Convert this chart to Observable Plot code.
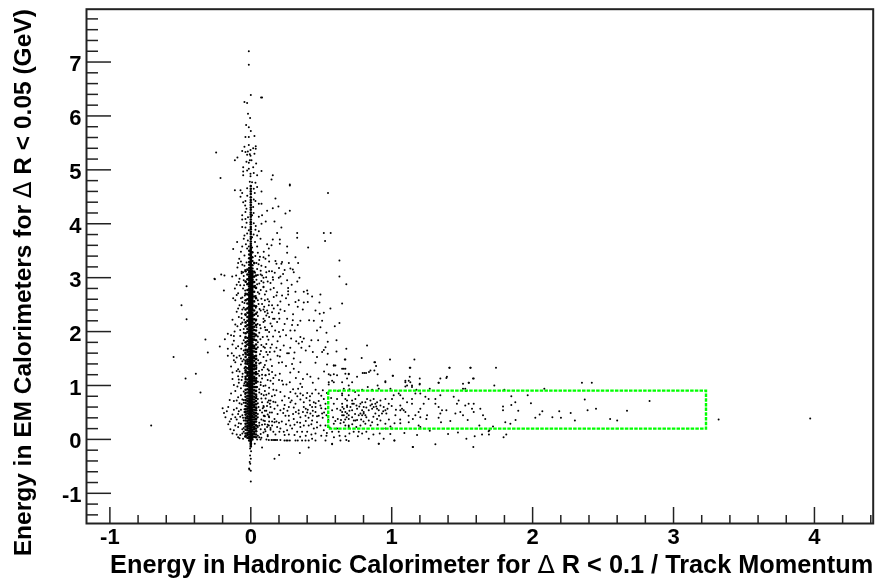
<!DOCTYPE html>
<html><head><meta charset="utf-8">
<style>html,body{margin:0;padding:0;background:#fff}svg{display:block;filter:blur(0.3px)}</style>
<script src="https://cdn.jsdelivr.net/npm/d3@7"></script>
<script src="https://cdn.jsdelivr.net/npm/@observablehq/plot@0.6"></script>
</head><body><div id="chart"></div>
<script>
const xMajor=[-1,0,1,2,3,4];
const xMinor=[-0.8,-0.6,-0.4,-0.2,0.2,0.4,0.6,0.8,1.2,1.4,1.6,1.8,2.2,2.4,2.6,2.8,3.2,3.4,3.6,3.8,4.2,4.4];
const yMajor=[-1,0,1,2,3,4,5,6,7];
const yMinor=[-1.4,-1.2,-0.8,-0.6,-0.4,-0.2,0.2,0.4,0.6,0.8,1.2,1.4,1.6,1.8,2.2,2.4,2.6,2.8,3.2,3.4,3.6,3.8,4.2,4.4,4.6,4.8,5.2,5.4,5.6,5.8,6.2,6.4,6.6,6.8,7.2,7.4,7.6,7.8];
const xTitle="Energy in Hadronic Calorimeter for Δ R < 0.1 / Track Momentum";
const yTitle="Energy in EM Calorimeters for Δ R < 0.05 (GeV)";
const box=[{x1:0.553,x2:3.234,y1:0.19,y2:0.896}];

const spineCenter=[-0.13,-0.1,-0.07,-0.04,-0.01,0.02,0.05,0.07,0.1,0.13,0.15,0.18,0.21,0.23,0.26,0.29,0.31,0.34,0.37,0.4,0.42,0.45,0.47,0.5,0.53,0.55,0.58,0.61,0.64,0.66,0.69,0.72,0.74,0.77,0.8,0.82,0.85,0.88,0.9,0.93,0.96,0.98,1.01,1.04,1.07,1.09,1.12,1.15,1.17,1.2,1.23,1.25,1.28,1.31,1.33,1.36,1.39,1.42,1.44,1.47,1.5,1.52,1.55,1.58,1.6,1.63,1.66,1.68,1.71,1.74,1.77,1.79,1.82,1.85,1.87,1.9,1.93,1.95,1.98,2.01,2.03,2.06,2.09,2.12,2.14,2.17,2.2,2.22,2.25,2.28,2.3,2.33,2.36,2.38,2.41,2.44,2.47,2.49,2.52,2.55,2.57,2.6,2.63,2.65,2.68,2.71,2.73,2.76,2.79,2.82,2.84,2.87,2.9,2.92,2.95,2.98,3.0,3.03,3.06,3.08,3.11,3.14,3.17,3.19,3.22,3.25,3.27,3.3,3.33,3.35,3.38,3.41,3.43,3.46,3.49,3.52,3.55,3.59,3.63,3.67,3.72,3.76,3.81,3.85,3.9,3.94,3.99,4.03,4.08,4.13,4.17,4.21,4.26,4.3,4.35,4.4,4.44,4.49,4.55,4.6,4.65,4.7];
const spineLeft=[-0.02,0.02,0.05,0.09,0.13,0.16,0.2,0.24,0.27,0.31,0.35,0.38,0.42,0.46,0.49,0.53,0.57,0.6,0.64,0.68,0.71,0.75,0.79,0.82,0.86,0.9,0.93,0.97,1.01,1.04,1.08,1.12,1.15,1.19,1.23,1.26,1.3,1.34,1.37,1.41,1.45,1.48,1.52,1.56,1.59,1.63,1.67,1.7,1.74,1.78,1.81,1.85,1.89,1.92,1.96,2.0,2.03,2.07,2.11,2.14,2.18,2.22,2.25,2.29,2.33,2.36,2.4,2.44,2.47,2.51,2.55,2.58,2.62,2.66,2.69,2.73,2.77,2.8,2.84,2.88,2.91,2.95,2.99,3.02,3.06,3.1,3.13,3.18,3.24,3.29,3.36,3.43,3.5];
const spineRight=[0.0,0.04,0.08,0.11,0.15,0.18,0.22,0.26,0.29,0.33,0.37,0.41,0.44,0.48,0.52,0.55,0.59,0.63,0.66,0.7,0.74,0.77,0.81,0.85,0.88,0.92,0.96,0.99,1.03,1.07,1.1,1.14,1.18,1.21,1.25,1.29,1.32,1.36,1.4,1.43,1.47,1.51,1.54,1.58,1.62,1.65,1.69,1.73,1.76,1.8,1.84,1.87,1.91,1.95,1.98,2.02,2.06,2.09,2.13,2.17,2.2,2.24,2.28,2.31,2.35,2.39,2.42,2.46,2.5,2.53,2.57,2.61,2.64,2.68,2.72,2.75,2.79,2.83,2.86,2.9,2.94,2.97,3.01,3.05,3.08,3.12,3.17,3.23,3.31,3.38,3.47];
const spineOuterL=[0.03,0.08,0.12,0.17,0.21,0.25,0.3,0.34,0.39,0.43,0.48,0.52,0.57,0.61,0.66,0.71,0.76,0.81,0.87,0.93,0.99,1.05,1.11,1.18,1.25,1.32,1.4,1.48,1.57,1.66,1.76,1.88,1.99,2.12,2.27,2.43,2.6,2.77,2.97,3.15,1.02,1.22,1.44,1.62,1.82,2.05,2.2,2.35,2.52,2.69,2.88,3.06];
const spineOuterR=[0.05,0.1,0.14,0.19,0.23,0.28,0.32,0.37,0.41,0.46,0.5,0.55,0.6,0.64,0.69,0.74,0.79,0.85,0.91,0.97,1.03,1.09,1.16,1.23,1.3,1.38,1.46,1.54,1.63,1.73,1.85,1.96,2.09,2.23,2.39,2.56,2.74,2.92,3.11,3.27,1.13,1.35,1.51,1.69,1.91,2.03,2.16,2.31,2.48,2.65,2.83,3.02];
const spineFlankL=[0.06,0.11,0.18,0.24,0.29,0.35,0.4,0.46,0.51,0.56,0.62,0.68,0.73,0.79,0.86,0.92,1.0,1.07,1.16,1.24,1.34,1.46,1.59,1.73,1.9,2.1,2.31,2.58,1.12,1.28,1.41,1.53,1.66,1.8,1.97,2.17,2.41,2.7,2.93,3.12];
const spineFlankR=[0.04,0.09,0.15,0.2,0.26,0.33,0.38,0.44,0.49,0.54,0.59,0.65,0.71,0.77,0.83,0.9,0.97,1.05,1.13,1.21,1.31,1.42,1.55,1.68,1.84,2.02,2.22,2.47,1.09,1.25,1.37,1.49,1.62,1.76,1.93,2.12,2.33,2.62,2.81,3.04];

const upperPlume=[[-0.014,7.2],[-0.014,6.95],[0,6.39],[0.073,6.34],[0.08,6.34],[-0.045,6.26],[-0.026,6.24],[-0.02,6.04],[-0.005,5.96],[-0.033,5.83],[-0.014,5.79],[0,5.72],[-0.038,5.61],[-0.014,5.61],[0.026,5.63],[-0.014,5.46],[-0.045,5.43],[0.035,5.44],[0.017,5.4],[0.035,5.39],[-0.061,5.35],[-0.038,5.33],[-0.021,5.34],[-0.002,5.37],[0.026,5.3],[-0.007,5.29],[-0.002,5.26],[-0.026,5.28],[-0.246,5.32],[-0.095,5.23],[-0.113,5.18],[-0.007,5.18],[0.005,5.18],[-0.031,5.15],[-0.014,5.13],[0.038,5.12],[-0.054,5.05],[0.017,5.05],[-0.014,5.02],[-0.026,4.99],[0.076,4.98],[-0.054,4.97],[-0.002,4.93],[0.021,4.94],[-0.054,4.9],[-0.002,4.88],[0.045,4.9],[0.156,4.9],[0.147,4.82],[-0.215,4.85],[-0.007,4.78],[0.009,4.77],[0.033,4.76],[0.277,4.73],[0.277,4.71],[-0.113,4.62],[-0.073,4.62],[-0.061,4.57],[-0.026,4.66],[0.021,4.65],[0.045,4.68],[0.076,4.6],[0.028,4.57],[-0.073,4.5],[0.175,4.47],[0.548,4.57],[-0.054,4.4],[-0.038,4.42],[0.021,4.45],[0.033,4.42],[0.057,4.37],[0.076,4.37],[0.017,4.31],[-0.031,4.28],[0.116,4.24],[0.156,4.29],[0.196,4.32],[0.277,4.24],[0.246,4.19],[-0.038,4.22],[0.009,4.16],[0.057,4.13],[0.08,4.16],[-0.061,4.16],[-0.038,4.09],[0.021,4.01],[0.076,4.0],[0.106,4.04],[0.168,4.04],[-0.061,4.08],[0.217,3.93],[-0.061,3.94],[-0.038,3.93],[-0.014,3.88],[-0.026,3.82],[0.033,3.89],[0.057,3.86],[0.187,3.83],[0.329,3.83],[0.518,3.83],[0.567,3.83],[0.329,3.74],[0.527,3.68],[-0.05,3.72],[-0.021,3.69],[0.009,3.75],[0.069,3.72],[0.156,3.71],[0.206,3.71],[-0.097,3.66],[-0.061,3.58],[-0.014,3.58],[0.009,3.56],[0.045,3.58],[0.116,3.62],[0.147,3.6],[0.206,3.63],[0.258,3.58],[0.407,3.56],[-0.125,3.53],[-0.026,3.54],[0.128,3.54],[-0.02,4.12],[0.02,4.2],[-0.03,4.02],[0.035,3.96],[-0.04,4.34],[-0.025,4.52],[0.02,3.8],[-0.035,3.62],[0.03,3.66],[-0.045,3.78],[0.045,3.78]];

const middleWing=[[0.629,3.32],[0.629,3.02],[0.678,2.88],[0.648,2.52],[0.565,2.43],[0.629,2.16],[0.596,2.1],[0.537,1.98],[0.608,1.84],[0.678,1.68],[0.608,1.63],[0.671,1.48],[0.546,1.81],[0.53,1.71],[0.518,1.66],[0.546,1.59],[0.506,1.62],[0.47,1.53],[0.478,1.84],[0.43,1.84],[0.416,1.73],[0.359,1.7],[0.352,1.9],[0.376,1.87],[0.364,1.81],[0.322,1.82],[0.286,1.87],[0.234,1.74],[0.208,1.91],[0.158,1.91],[0.116,1.91],[0.182,1.7],[0.21,1.66],[0.168,1.63],[0.258,1.6],[0.27,1.6],[0.206,1.54],[0.305,1.5],[0.47,2.02],[0.494,2.08],[0.506,2.2],[0.447,2.2],[0.414,2.21],[0.352,2.2],[0.312,2.02],[0.281,2.02],[0.293,2.12],[0.229,2.03],[0.333,2.12],[0.258,2.24],[0.298,2.21],[0.187,2.18],[0.158,2.24],[0.168,2.24],[0.203,2.24],[0.116,2.03],[0.173,2.02],[0.459,2.39],[0.489,2.33],[0.518,2.35],[0.369,2.41],[0.333,2.46],[0.34,2.58],[0.317,2.55],[0.376,2.54],[0.404,2.55],[0.487,2.54],[0.494,2.69],[0.435,2.65],[0.404,2.7],[0.376,2.74],[0.4,2.76],[0.317,2.74],[0.265,2.69],[0.265,2.75],[0.265,2.81],[0.258,2.95],[0.217,2.89],[0.345,3.0],[0.305,3.1],[0.281,3.17],[0.298,3.15],[0.27,3.27],[0.336,3.27],[0.317,3.38],[0.258,3.46],[0.222,3.29],[0.217,3.26],[0.175,3.31],[0.182,3.26],[0.128,3.41],[0.104,3.35],[0.092,3.48],[0.21,3.02],[0.199,3.0],[0.229,3.07],[0.156,3.01],[0.158,2.96],[0.109,3.01],[0.08,3.04],[0.187,2.73],[0.182,2.67],[0.222,2.67],[0.163,2.81],[0.163,2.64],[0.128,2.49],[0.151,2.49],[0.191,2.49],[0.163,2.43],[0.21,2.41],[0.199,2.34],[0.151,2.36],[0.116,2.39]];

const leftOutliers=[[-0.707,0.26],[-0.492,2.49],[-0.456,2.23],[-0.548,1.53],[-0.322,1.855],[-0.305,1.61],[-0.22,1.725],[-0.39,1.22],[-0.463,1.13],[-0.357,0.87],[-0.456,2.84],[-0.258,2.98],[-0.21,3.06],[-0.187,3.04],[-0.163,1.96],[-0.184,1.86],[-0.163,1.68],[-0.163,1.55],[-0.121,1.55],[-0.255,2.97],[-0.132,3.02],[-0.104,3.04],[-0.191,2.76],[-0.113,2.8],[-0.125,2.62]];

const baseRow=[[0.111,0],[0.128,-0.01],[0.147,-0.01],[0.158,-0.01],[0.168,-0.01],[0.177,-0.01],[0.187,-0.01],[0.21,-0.01],[0.239,-0.02],[0.253,-0.02],[0.262,-0.02],[0.277,-0.02],[0.317,-0.02],[0.333,-0.02],[0.364,-0.02],[0.388,-0.02],[0.411,-0.02],[0.348,-0.25],[0.201,-0.29],[0.168,-0.36],[0.411,-0.15],[0.459,-0.02],[0.435,0.01],[0.577,-0.08],[0.636,-0.02],[0.695,-0.03],[0.045,0],[0.069,0],[0.08,-0.15],[0.028,-0.08],[-0.005,-0.17],[0.002,-0.22],[-0.005,-0.3],[0.0,-0.36],[-0.008,-0.42],[-0.012,-0.54],[0,-0.58],[0,-0.78],[-0.01,-0.56],[-0.004,-0.45]];

const lowerWing=[[0.199,1.42],[0.222,1.43],[0.293,1.4],[0.305,1.31],[0.34,1.25],[0.4,1.21],[0.423,1.16],[0.352,1.43],[0.459,1.42],[0.541,1.39],[0.589,1.37],[0.648,1.31],[0.671,1.31],[0.695,1.21],[0.553,1.21],[0.589,1.21],[0.612,1.19],[0.683,1.13],[0.092,1.34],[0.128,1.28],[0.151,1.25],[0.104,1.19],[0.175,1.19],[0.206,1.22],[0.222,1.09],[0.277,1.06],[0.253,1.02],[0.229,1.02],[0.158,1.03],[0.182,0.91],[0.128,0.85],[0.104,1.0],[0.352,1.03],[0.336,0.94],[0.364,0.97],[0.281,0.88],[0.317,0.85],[0.352,0.85],[0.4,0.86],[0.435,0.85],[0.482,0.85],[0.511,0.91],[0.577,1.09],[0.553,1.02],[0.222,0.72],[0.128,0.72],[0.135,0.66],[0.092,0.82],[0.175,0.69],[0.281,0.69],[0.317,0.66],[0.352,0.74],[0.395,0.77],[0.376,0.69],[0.418,0.72],[0.447,0.69],[0.482,0.71],[0.518,0.75],[0.53,0.66],[0.494,0.63],[0.459,0.6],[0.435,0.6],[0.404,0.55],[0.376,0.6],[0.34,0.54],[0.305,0.59],[0.27,0.6],[0.234,0.57],[0.21,0.54],[0.168,0.57],[0.168,0.38],[0.168,0.32],[0.151,0.33],[0.182,0.33],[0.092,0.6],[0.092,0.44],[0.128,0.43],[0.116,0.23],[0.128,0.26],[0.151,0.26],[0.187,0.23],[0.21,0.2],[0.203,0.14],[0.175,0.09],[0.104,0.15],[0.246,0.44],[0.27,0.35],[0.305,0.38],[0.329,0.32],[0.352,0.41],[0.388,0.44],[0.423,0.48],[0.459,0.51],[0.482,0.44],[0.506,0.48],[0.53,0.57],[0.537,0.45],[0.435,0.35],[0.47,0.32],[0.376,0.26],[0.352,0.23],[0.411,0.26],[0.329,0.14],[0.293,0.2],[0.258,0.17],[0.234,0.14],[0.364,0.14],[0.4,0.14],[0.447,0.2],[0.459,0.11],[0.494,0.26],[0.518,0.17],[0.537,0.07],[0.577,0.14],[0.612,0.2],[0.57,0.77],[0.589,0.66],[0.612,0.75],[0.648,0.82],[0.683,0.72],[0.577,0.54],[0.612,0.57],[0.648,0.51],[0.683,0.6],[0.584,0.41],[0.617,0.38],[0.66,0.45],[0.695,0.38],[0.589,0.29],[0.636,0.3],[0.671,0.26],[0.695,0.23],[0.624,0.14],[0.671,0.06]];

const wingExtra=[[0.11,1.62],[0.14,1.48],[0.19,1.55],[0.09,1.72],[0.12,1.1],[0.16,1.14],[0.2,1.1],[0.13,0.96],[0.17,0.82],[0.21,0.88],[0.24,0.8],[0.27,0.77],[0.3,0.93],[0.33,0.8],[0.37,0.82],[0.42,0.8],[0.46,0.92],[0.5,0.81],[0.54,0.86],[0.1,0.53],[0.15,0.5],[0.19,0.47],[0.23,0.49],[0.26,0.53],[0.3,0.47],[0.34,0.48],[0.37,0.51],[0.41,0.4],[0.44,0.44],[0.47,0.43],[0.51,0.4],[0.55,0.36],[0.22,0.33],[0.25,0.28],[0.28,0.26],[0.31,0.27],[0.35,0.31],[0.39,0.34],[0.43,0.28],[0.47,0.22],[0.53,0.26],[0.56,0.22],[0.6,0.34],[0.64,0.36],[0.68,0.41],[0.1,0.34],[0.14,0.18],[0.24,0.08],[0.27,0.09],[0.31,0.08],[0.35,0.05],[0.39,0.07],[0.43,0.09],[0.5,0.07],[0.54,0.12],[0.59,0.04],[0.63,0.07],[0.7,0.11],[0.73,0.14],[0.76,0.06],[0.82,0.14],[0.87,0.09],[0.99,0.1],[1.09,0.12],[1.18,0.08],[1.27,0.16],[1.4,0.1],[1.47,0.13],[0.62,0.9],[0.66,0.94],[0.7,0.93],[0.74,0.88],[0.77,0.61],[0.82,0.59],[0.86,0.65],[0.89,0.61],[0.92,0.72],[0.94,0.52],[0.97,0.57],[1.0,0.62],[1.03,0.55],[1.08,0.76],[1.12,0.44],[1.15,0.38],[0.72,0.66],[0.75,0.63],[0.65,0.6],[0.7,0.53],[0.74,0.47],[0.82,0.41],[0.87,0.42],[0.91,0.44],[0.98,0.37],[1.02,0.3],[1.06,0.37],[0.67,0.37],[0.72,0.28],[0.8,0.33],[0.85,0.26],[0.9,0.27],[0.1,2.2],[0.13,2.27],[0.09,2.41],[0.12,2.6],[0.09,2.83],[0.11,2.75],[0.14,2.9],[0.13,3.12],[0.17,3.09],[0.2,3.18],[0.24,3.14],[0.15,1.76],[0.19,1.82],[0.25,1.93],[0.28,1.7],[0.31,1.61],[0.34,1.78],[0.39,1.65],[0.44,1.62],[0.25,1.36],[0.28,1.24],[0.32,1.14],[0.37,1.12],[0.44,1.05],[0.48,1.13],[0.52,1.26],[0.15,2.1],[0.2,1.99],[0.24,2.14],[0.3,2.32],[0.24,2.38],[0.27,2.5],[0.21,2.56],[0.25,2.62],[0.29,2.87],[0.33,2.93],[0.14,0.72],[0.19,0.63],[0.24,0.64],[0.29,0.72],[0.12,0.08],[0.16,0.14],[0.2,0.31],[0.27,0.44],[0.32,0.51],[0.39,0.57],[0.42,0.64],[0.46,0.67],[0.5,0.58],[0.52,0.5],[0.44,0.53],[0.4,0.5]];

const farWing=[[0.825,1.74],[0.787,1.51],[0.988,1.48],[1.161,1.48],[0.882,1.43],[1.132,1.33],[1.411,1.33],[1.56,1.33],[1.74,1.33],[0.849,1.28],[0.806,1.23],[0.754,1.16],[0.9,1.21],[1.009,1.18],[0.66,1.31],[0.671,1.22],[0.695,1.22],[0.589,1.37],[0.6,1.37],[0.667,1.48],[0.565,1.19],[0.553,1.06],[0.589,1.06],[0.648,1.06],[0.719,1.06],[0.695,1.0],[1.097,1.09],[1.121,1.09],[1.199,1.13],[1.199,1.03],[1.109,1.0],[1.144,1.0],[1.333,1.05],[1.345,1.13],[1.388,1.14],[1.506,1.03],[1.546,1.05],[1.582,1.13],[1.728,1.0],[1.522,0.94],[1.527,0.9],[1.799,0.92],[2.083,0.94],[2.35,1.05],[0.955,1.06],[0.9,1.0],[0.83,0.97],[0.79,0.92],[0.861,0.92],[1.988,0.67],[1.965,0.82],[1.877,0.69],[1.849,0.8],[1.849,0.64],[1.79,0.61],[1.79,0.54],[1.898,0.53],[1.879,0.36],[1.806,0.32],[1.842,0.29],[2.019,0.4],[2.05,0.46],[2.069,0.52],[2.14,0.41],[2.189,0.52],[2.201,0.4],[2.27,0.49],[2.39,0.54],[1.794,0.04],[1.813,0.09],[1.719,0.24],[1.693,0.17],[1.69,0.09],[1.641,0.09],[1.589,0.06],[1.53,0.01],[1.579,-0.14],[1.31,-0.09],[1.149,-0.14],[0.908,-0.08],[1.019,-0.02],[0.577,-0.09],[0.53,-0.02],[0.877,1.43],[0.889,1.36],[0.877,1.28],[0.839,1.25],[0.818,1.23],[0.794,1.23],[1.007,1.18],[1.128,1.33],[1.128,1.16],[1.097,1.06],[1.132,1.06],[1.198,1.02],[1.144,0.97],[1.097,0.98],[1.27,0.94],[1.175,0.92],[1.392,1.16],[1.333,1.05],[1.409,1.33],[1.558,1.33],[1.577,1.13],[1.548,1.05],[1.506,0.94],[0.955,1.08],[0.908,0.94],[0.991,0.94],[2.42,1.05],[2.55,0.38],[2.83,0.71],[2.67,0.53],[2.6,0.35],[3.32,0.37],[3.97,0.39],[2.45,0.57],[2.3,0.35],[2.37,0.74]];

const boxCloud=[[0.648,0.85],[0.671,0.75],[0.695,0.82],[0.719,0.72],[0.742,0.75],[0.766,0.82],[0.79,0.69],[0.825,0.75],[0.849,0.72],[0.872,0.75],[0.896,0.69],[0.648,0.66],[0.683,0.63],[0.707,0.6],[0.731,0.66],[0.754,0.57],[0.79,0.54],[0.801,0.48],[0.778,0.48],[0.766,0.45],[0.813,0.45],[0.837,0.54],[0.861,0.57],[0.884,0.66],[0.92,0.63],[0.943,0.6],[0.979,0.66],[1.002,0.75],[1.014,0.82],[1.05,0.85],[1.061,0.82],[0.955,0.75],[0.908,0.54],[0.931,0.48],[0.962,0.48],[0.955,0.54],[0.884,0.48],[0.896,0.38],[0.92,0.35],[0.955,0.29],[0.861,0.32],[0.837,0.35],[0.813,0.29],[0.778,0.26],[0.742,0.35],[0.719,0.41],[0.695,0.45],[0.671,0.51],[0.648,0.45],[0.66,0.32],[0.695,0.26],[0.731,0.35],[0.749,0.23],[0.991,0.24],[1.002,0.2],[1.026,0.45],[1.061,0.54],[1.061,0.63],[1.085,0.54],[1.073,0.57],[1.097,0.51],[1.109,0.69],[1.144,0.75],[1.144,0.66],[1.168,0.85],[1.203,0.85],[1.239,0.79],[1.262,0.75],[1.227,0.66],[1.203,0.57],[1.168,0.45],[1.203,0.41],[1.191,0.51],[1.251,0.45],[1.246,0.38],[1.121,0.32],[1.061,0.3],[1.191,0.26],[1.203,0.23],[1.345,0.82],[1.31,0.75],[1.31,0.66],[1.333,0.6],[1.357,0.54],[1.388,0.54],[1.345,0.48],[1.333,0.4],[1.35,0.32],[1.416,0.34],[1.44,0.79],[1.475,0.72],[1.463,0.66],[1.487,0.51],[1.452,0.48],[1.522,0.63],[1.546,0.66],[1.582,0.66],[1.57,0.57],[1.582,0.51],[1.506,0.45],[1.539,0.36],[1.629,0.57],[1.648,0.45],[1.664,0.38],[1.622,0.26],[0.678,-0.01],[0.908,-0.08],[0.943,0.01],[1.019,-0.02],[1.151,-0.14],[1.688,0.15],[0.766,0.14],[0.79,0.11],[0.837,0.01],[0.915,0.11],[0.955,0.2],[0.636,0.54],[0.66,0.57],[0.683,0.48],[0.719,0.54],[0.778,0.66],[0.801,0.6],[0.813,0.69],[0.849,0.63],[0.872,0.6],[0.896,0.57],[0.754,0.36],[0.783,0.37],[0.801,0.51],[0.79,0.45]];

const nearSpine=[[-0.07,3.48],[0.05,3.46],[-0.045,3.41],[0.032,3.4],[0.09,3.38],[-0.082,3.35],[0.06,3.33],[0.13,3.3],[-0.03,3.28],[0.04,3.27],[-0.06,3.24],[0.075,3.22],[0.105,3.2],[-0.095,3.19],[0.045,3.16],[-0.04,3.14],[0.15,3.12],[-0.065,3.11],[0.03,3.09],[0.07,3.06],[-0.05,3.03],[0.09,3.0],[-0.08,2.98],[0.04,2.96],[0.12,2.93],[-0.035,2.92],[0.06,2.89],[-0.1,2.87],[0.03,2.85],[0.09,2.82],[-0.055,2.8],[0.14,2.78],[-0.04,2.76],[0.05,2.73],[-0.09,2.71],[0.1,2.69],[0.035,2.66],[-0.06,2.63],[0.075,2.61],[-0.11,2.58],[0.13,2.56],[-0.045,2.53],[0.055,2.51],[-0.08,2.49],[0.095,2.46],[0.035,2.44],[-0.06,2.41],[0.07,2.39],[-0.1,2.37],[0.12,2.34],[-0.04,2.32],[0.05,2.29],[-0.085,2.27],[0.09,2.24],[-0.13,2.22],[0.035,2.2],[-0.06,2.17],[0.14,2.15],[0.065,2.12],[-0.095,2.1],[0.04,2.08],[-0.05,2.05],[0.105,2.03],[-0.115,2.0],[0.06,1.98],[0.035,1.95],[-0.075,1.92],[0.085,1.9],[-0.04,1.88],[0.125,1.85],[-0.12,1.83],[0.05,1.8],[-0.06,1.78],[0.075,1.75],[-0.09,1.73],[0.1,1.7],[0.04,1.68],[-0.05,1.65],[0.135,1.62],[-0.135,1.6],[0.065,1.58],[-0.08,1.55],[0.09,1.53],[0.04,1.5],[-0.05,1.48],[0.11,1.46],[-0.11,1.43],[0.06,1.41],[-0.07,1.39],[0.15,1.36],[0.04,1.34],[-0.045,1.32],[0.08,1.29],[-0.1,1.27],[-0.13,1.24],[0.05,1.22],[0.105,1.19],[-0.06,1.16],[0.04,1.14],[-0.085,1.11],[0.14,1.09],[0.07,1.06],[-0.045,1.04],[-0.12,1.01],[0.09,0.99],[0.045,0.97],[-0.07,0.95],[0.16,0.92],[-0.05,0.89],[0.06,0.87],[-0.14,0.85],[0.11,0.83],[0.04,0.8],[-0.09,0.78],[0.075,0.76],[-0.05,0.73],[-0.12,0.71],[0.12,0.69],[0.05,0.67],[-0.065,0.65],[0.09,0.62],[-0.16,0.6],[0.04,0.58],[-0.045,0.56],[0.065,0.54],[-0.085,0.52],[0.135,0.5],[-0.19,0.49],[0.05,0.47],[-0.06,0.45],[0.1,0.43],[-0.11,0.41],[0.04,0.39],[0.075,0.37],[-0.05,0.35],[-0.15,0.33],[0.06,0.31],[-0.07,0.29],[0.12,0.27],[0.045,0.25],[-0.09,0.23],[-0.05,0.21],[0.07,0.19],[-0.12,0.17],[0.04,0.15],[0.09,0.13],[-0.06,0.11],[-0.1,0.09],[0.05,0.07],[-0.04,0.05],[0.075,0.03],[-0.08,0.02],[-0.04,1.61],[0.05,1.07],[-0.05,1.0],[0.06,0.93],[-0.04,0.84],[0.05,0.75],[-0.05,0.68],[0.055,0.6],[-0.045,0.51],[0.05,0.41],[-0.055,0.4],[0.06,0.26],[-0.05,0.14],[0.05,0.23],[-0.06,0.74],[0.075,0.84],[-0.07,0.55],[0.08,0.5],[-0.075,0.42],[0.09,0.35],[-0.085,0.3],[0.1,0.28],[0.11,0.53],[-0.1,0.58],[0.13,0.41],[-0.13,0.46],[0.14,0.6],[-0.11,0.9],[-0.085,1.05],[0.08,1.13],[-0.09,1.3],[0.1,1.38],[-0.1,1.52],[0.12,1.57],[-0.105,1.69],[0.11,1.77],[-0.12,1.92],[0.13,1.99],[-0.07,2.14],[0.09,2.18],[-0.065,2.33],[0.08,2.51],[-0.07,2.62],[0.07,2.77],[-0.075,2.86],[0.075,2.94],[-0.065,3.08],[0.07,3.13],[-0.07,3.3],[0.065,3.39],[-0.045,3.22],[0.05,3.05],[-0.05,2.95],[0.045,2.88],[-0.042,2.67],[0.05,2.58],[-0.05,2.44],[0.045,2.36],[-0.047,2.22],[0.048,2.14],[-0.05,1.98],[0.05,1.91],[-0.05,1.84],[0.05,1.71],[-0.055,1.57],[0.052,1.47],[-0.06,1.45],[0.058,1.27],[-0.058,1.22],[0.06,1.18],[-0.065,1.1],[0.07,1.01],[-0.07,0.82],[0.08,0.69],[-0.08,0.67],[0.085,0.58],[-0.09,0.47],[0.095,0.44],[-0.1,0.37],[0.1,0.19],[-0.06,0.19],[0.07,0.1],[-0.075,0.08],[0.08,0.27],[-0.11,0.26],[-0.13,0.11],[0.06,0.04],[-0.055,0.01],[-0.055,3.1],[0.055,3.25],[-0.048,2.86],[0.06,2.7],[-0.06,2.55],[0.062,2.42],[-0.065,2.25],[0.07,2.06],[-0.075,2.03],[0.068,1.86],[-0.068,1.68],[0.072,1.64],[-0.07,1.5],[0.07,1.42],[-0.08,1.26],[0.08,1.2],[-0.09,1.17],[0.1,0.9],[-0.095,0.98],[0.105,0.76],[-0.1,0.72],[0.115,0.62],[-0.12,0.55],[0.12,0.46],[-0.14,0.38],[0.13,0.33],[-0.16,0.28],[0.14,0.21],[-0.145,0.19],[0.12,0.06],[-0.09,0.04],[-0.17,0.52],[-0.2,0.58],[-0.18,0.41],[0.15,0.8],[-0.15,0.73],[0.16,0.7],[-0.13,1.12],[0.13,1.21],[-0.14,1.35],[0.12,1.3],[-0.12,1.47],[-0.13,1.76],[0.14,1.7],[-0.14,1.93],[0.1,2.08],[-0.11,2.13],[0.11,2.3],[-0.09,2.43],[0.1,2.37],[-0.1,2.68],[0.1,2.58],[-0.085,2.92],[0.09,2.91],[-0.09,3.27],[0.11,3.1]];

const dotSets=[upperPlume,middleWing,leftOutliers,baseRow,lowerWing,wingExtra,farWing,boxCloud,nearSpine];
const spineColumns=[{x:0,ys:spineCenter},{x:-0.011,ys:spineLeft},{x:0.011,ys:spineRight},{x:-0.024,ys:spineOuterL},{x:0.024,ys:spineOuterR},{x:-0.037,ys:spineFlankL},{x:0.037,ys:spineFlankR}];
const spine=spineColumns.flatMap(c=>c.ys.map(y=>[c.x,y]));

const ink="#222";
const chart=Plot.plot({
  width:875,height:578,marginLeft:86,marginRight:2.3,marginTop:8.7,marginBottom:55,
  style:{fontFamily:"'Liberation Sans',Arial,sans-serif",fontWeight:"bold",color:"#000",background:"#fff"},
  x:{domain:[-1.166,4.417],type:"linear",nice:false},
  y:{domain:[-1.56,7.98],type:"linear",nice:false},
  marks:[
    Plot.dot(dotSets.flat(),{x:d=>d[0],y:d=>d[1],r:1,fill:"#000",stroke:null}),
    Plot.dot(spine,{x:d=>d[0],y:d=>d[1],r:1.3,fill:"#000",stroke:null}),
    Plot.rect(box,{x1:"x1",x2:"x2",y1:"y1",y2:"y2",fill:"none",stroke:"#00ff00",strokeWidth:2.4,strokeDasharray:"3.5,1.2"}),
    Plot.axisX({anchor:"bottom",ticks:xMinor,tickSize:-8,text:null,label:null,stroke:ink,strokeWidth:1.5}),
    Plot.axisX({anchor:"bottom",ticks:xMajor,tickSize:-16,text:null,label:null,stroke:ink,strokeWidth:1.5}),
    Plot.axisY({anchor:"left",ticks:yMinor,tickSize:-12,text:null,label:null,stroke:ink,strokeWidth:1.5}),
    Plot.axisY({anchor:"left",ticks:yMajor,tickSize:-25,text:null,label:null,stroke:ink,strokeWidth:1.5}),
    Plot.axisX({anchor:"bottom",ticks:xMajor,tickSize:0,tickPadding:5,tickFormat:String,fontSize:22,fontWeight:"bold",label:null}),
    Plot.axisY({anchor:"left",ticks:yMajor,tickSize:0,tickPadding:5,dy:2,tickFormat:String,fontSize:22,fontWeight:"bold",label:null}),
    Plot.text([xTitle],{frameAnchor:"bottom-right",lineAnchor:"middle",textAnchor:"end",dy:41,fontSize:25.3,fontWeight:"bold",fill:"#000"}),
    Plot.text([yTitle],{frameAnchor:"top-left",rotate:-90,lineAnchor:"middle",textAnchor:"end",dx:-63,dy:0,fontSize:24.5,fontWeight:"bold",fill:"#000"}),
    Plot.frame({stroke:ink,strokeWidth:2})
  ]
});
document.getElementById("chart").appendChild(chart);
// Thin Greek delta inside the bold axis titles
d3.select(chart).selectAll("text").each(function(){
  const walker=document.createTreeWalker(this,NodeFilter.SHOW_TEXT);
  let n;
  while((n=walker.nextNode())){
    const i=n.nodeValue.indexOf("Δ");
    if(i<0) continue;
    const parent=n.parentNode, before=n.nodeValue.slice(0,i), after=n.nodeValue.slice(i+1);
    const t=document.createElementNS("http://www.w3.org/2000/svg","tspan");
    t.setAttribute("font-weight","normal");
    t.setAttribute("font-family","'DejaVu Sans'");
    t.textContent="Δ";
    parent.insertBefore(document.createTextNode(before),n);
    parent.insertBefore(t,n);
    parent.insertBefore(document.createTextNode(after),n);
    parent.removeChild(n);
    break;
  }
});
</script></body></html>
